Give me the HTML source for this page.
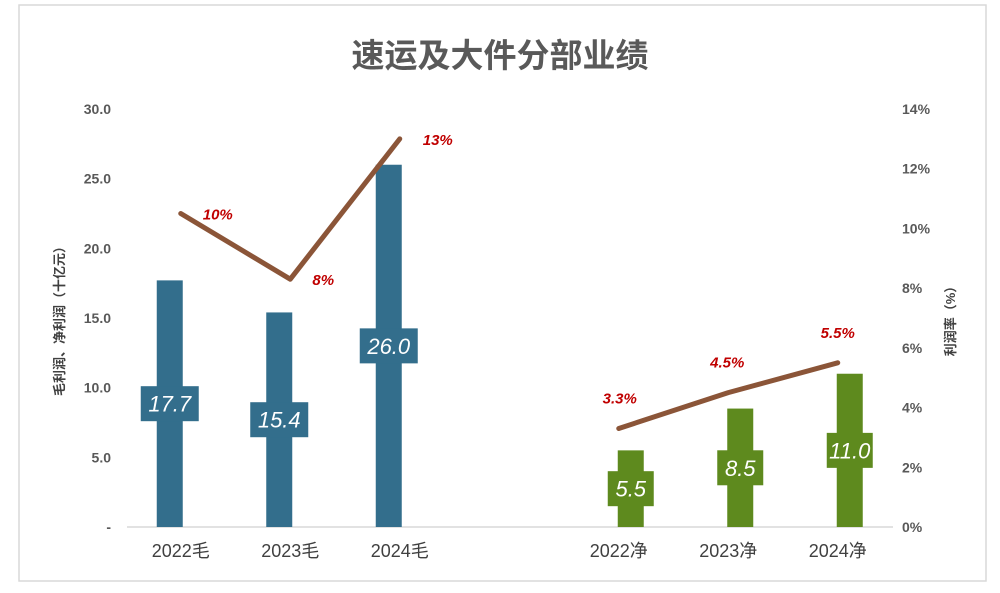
<!DOCTYPE html>
<html><head><meta charset="utf-8"><style>
body{margin:0;background:#fff;font-family:"Liberation Sans","Noto Sans CJK SC",sans-serif;}
svg text{font-family:"Liberation Sans","Noto Sans CJK SC",sans-serif;}
</style></head><body>
<svg id="c" width="1000" height="588">
<rect x="19" y="5" width="967" height="576" fill="#fff" stroke="#d9d9d9" stroke-width="1.5"/>
<text x="500" y="67" text-anchor="middle" font-size="33" font-weight="bold" fill="#595959">速运及大件分部业绩</text>
<text transform="translate(64,318) rotate(-90)" text-anchor="middle" font-size="13" font-weight="bold" fill="#404040">毛利润、净利润（十亿元）</text>
<text transform="translate(955,318) rotate(-90)" text-anchor="middle" font-size="13" font-weight="bold" fill="#404040">利润率（%）</text>
<g id="g"></g>
</svg>
<script>
const categories=["2022毛","2023毛","2024毛","","2022净","2023净","2024净"];
const profits=[17.7,15.4,26.0,null,5.5,8.5,11.0];
const profitLabels=["17.7","15.4","26.0","","5.5","8.5","11.0"];
const grossMargin=[10.5,8.3,13.0];
const grossMarginLabels=["10%","8%","13%"];
const netMargin=[3.3,4.5,5.5];
const netMarginLabels=["3.3%","4.5%","5.5%"];
const leftTicks=[0,5,10,15,20,25,30];
const rightTicks=[0,2,4,6,8,10,12,14];
const NS="http://www.w3.org/2000/svg",g=document.getElementById('g');
const x0=126,slot=109.5,yb=527,yt=109;
const xs=i=>x0+slot*(i+0.5);
const y=v=>yb-(yb-yt)*v/30;
const y2=v=>yb-(yb-yt)*v/14;
function el(t,a,txt){const e=document.createElementNS(NS,t);for(const k in a)e.setAttribute(k,a[k]);if(txt!==undefined)e.textContent=txt;g.appendChild(e);return e;}
leftTicks.forEach(v=>{const e=el('text',{x:111,y:y(v)+5,'text-anchor':'end','font-size':14,'font-weight':'bold',fill:'#595959'},v===0?'-':v.toFixed(1));

});
rightTicks.forEach(v=>{const e=el('text',{x:902,y:y2(v)+5,'font-size':14,'font-weight':'bold',fill:'#595959'},v+'%');

});
const ax=el('line',{x1:127,x2:893,y1:yb,y2:yb,stroke:'#d9d9d9','stroke-width':1.5});


categories.forEach((c,i)=>{
 if(c){const t=el('text',{x:xs(i),y:557,'text-anchor':'middle','font-size':18,fill:'#404040'},c);
 
 }
 const v=profits[i];if(v==null)return;
 const col=i<3?'#336E8C':'#5E8A1E';
 const bxc=xs(i)+(i<3?-11:12);
 const b=el('rect',{x:bxc-13,y:y(v),width:26,height:yb-y(v),fill:col});
 
 
 const bw=i<3?58:46,bh=35,cy=y(v/2);
 const bx=el('rect',{x:bxc-bw/2,y:cy-bh/2,width:bw,height:bh,fill:col});
 
 
 const t=el('text',{x:bxc,y:cy+8,'text-anchor':'middle','font-size':22,'font-style':'italic',fill:'#fff'},profitLabels[i]);
 
 
});
function line(vals,labels,start,offs,name){
 const pts=vals.map((v,k)=>xs(start+k)+','+y2(v)).join(' ');
 const p=el('polyline',{points:pts,fill:'none',stroke:'#8B5538','stroke-width':5,'stroke-linecap':'round','stroke-linejoin':'round'});
 
 
 vals.forEach((v,k)=>{const t=el('text',{x:xs(start+k)+offs[k][0],y:y2(v)+offs[k][1],'text-anchor':'middle','font-size':15,'font-weight':'bold','font-style':'italic',fill:'#C00000'},labels[k]);
 
 });
}
line(grossMargin,grossMarginLabels,0,[[37,6],[33,6],[38,6]],'gross-margin-line');
line(netMargin,netMarginLabels,4,[[1,-25],[-1,-25],[0,-25]],'net-margin-line');
</script>
</body></html>
